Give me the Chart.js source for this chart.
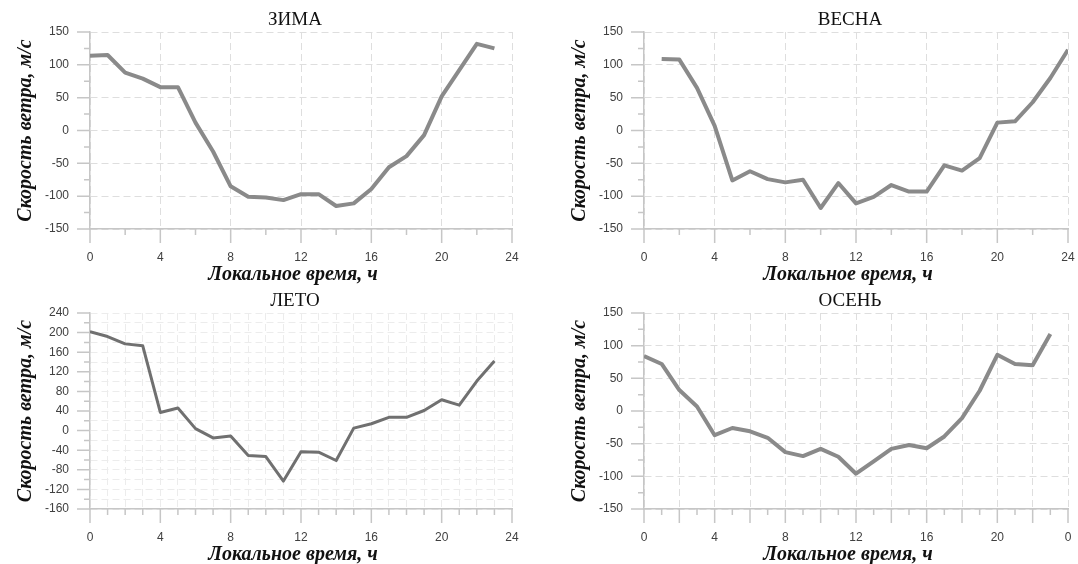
<!DOCTYPE html>
<html><head><meta charset="utf-8">
<script src="https://cdn.jsdelivr.net/npm/chart.js@4.4.0/dist/chart.umd.min.js"></script>
<style>
html,body{margin:0;padding:0;background:#fff;width:1078px;height:564px;overflow:hidden;position:relative}
canvas{position:absolute}
</style></head><body>
<canvas id="c1" style="left:0;top:0;width:539px;height:290px" width="539" height="290"></canvas>
<canvas id="c2" style="left:539px;top:0;width:539px;height:290px" width="539" height="290"></canvas>
<canvas id="c3" style="left:0;top:281px;width:539px;height:283px" width="539" height="283"></canvas>
<canvas id="c4" style="left:539px;top:281px;width:539px;height:283px" width="539" height="283"></canvas>
<script>
// ---- data ----
const seasonTitles = ['ЗИМА', 'ВЕСНА', 'ЛЕТО', 'ОСЕНЬ'];
const yAxisTitle = 'Скорость ветра, м/с';
const xAxisTitle = 'Локальное время, ч';

const winterHours = [0,1,2,3,4,5,6,7,8,9,10,11,12,13,14,15,16,17,18,19,20,21,22,23];
const winterWind  = [114,115,88,79,66,66,12,-32,-85,-101,-102,-106,-97,-97,-115,-111,-89,-56,-39,-7,52,92,132,125];

const springHours = [1,2,3,4,5,6,7,8,9,10,11,12,13,14,15,16,17,18,19,20,21,22,23,24];
const springWind  = [109,108,65,7,-76,-62,-74,-79,-75,-118,-80,-111,-101,-83,-93,-93,-53,-61,-42,12,14,43,80,123];

const summerHours = [0,1,2,3,4,5,6,7,8,9,10,11,12,13,14,15,16,17,18,19,20,21,22,23];
const summerWind  = [202,192,177,173,37,46,4,-15,-11,-51,-53,-103,-43,-44,-61,5,14,27,27,41,63,52,101,142];

const autumnHours = [0,1,2,3,4,5,6,7,8,9,10,11,12,13,14,15,16,17,18,19,20,21,22,23];
const autumnWind  = [84,72,32,7,-37,-26,-31,-41,-63,-69,-58,-70,-96,-77,-58,-52,-57,-39,-11,31,86,72,70,118];

const xTickLabels = [0,4,8,12,16,20,24];          // label every 4 h
const yRangeStd = [-150, 150];                    // ЗИМА, ВЕСНА, ОСЕНЬ
const yRangeSummer = [-160, 240];                 // ЛЕТО

// ---- plugin: minor/major tick marks + panel title + x-axis title ----
const axisDecor = {
  id: 'axisDecor',
  afterDraw(chart, args, o) {
    const {ctx, chartArea: a, scales: {x, y}} = chart;
    ctx.save();
    ctx.strokeStyle = '#c6c6c6';
    ctx.lineWidth = 1.5;
    ctx.beginPath();
    for (let v = x.min; v <= x.max + 1e-9; v += o.xMinor) {
      const px = x.getPixelForValue(v);
      const len = Math.abs(v % o.xMajor) < 1e-9 ? 14 : 6;
      ctx.moveTo(px, a.bottom); ctx.lineTo(px, a.bottom + len);
    }
    for (let v = y.min; v <= y.max + 1e-9; v += o.yMinor) {
      const py = y.getPixelForValue(v);
      const len = Math.abs(v % o.yMajor) < 1e-9 ? 13 : 6;
      ctx.moveTo(a.left, py); ctx.lineTo(a.left - len, py);
    }
    ctx.stroke();
    const cx = (a.left + a.right) / 2;
    ctx.fillStyle = '#111';
    ctx.textAlign = 'center';
    ctx.textBaseline = 'middle';
    ctx.font = '19px "Liberation Serif"';
    ctx.fillText(o.title, cx - 6, 20);
    ctx.font = 'italic bold 20px "Liberation Serif"';
    ctx.fillText(o.xTitle, cx - 8, a.bottom + 46);
    ctx.restore();
  }
};

function makeChart(id, cfg) {
  const pts = cfg.hours.map((h, i) => ({x: h, y: cfg.values[i]}));
  return new Chart(document.getElementById(id), {
    type: 'line',
    data: { datasets: [{
      data: pts,
      borderColor: cfg.lineColor,
      borderWidth: cfg.lineWidth,
      pointRadius: 0,
      tension: 0,
      borderJoinStyle: 'round',
      fill: false
    }]},
    plugins: [axisDecor],
    options: {
      responsive: false,
      animation: false,
      events: [],
      layout: { padding: { left: 0, top: 32, right: cfg.padRight, bottom: 0 } },
      plugins: {
        legend: { display: false },
        tooltip: { enabled: false },
        title: { display: false },
        axisDecor: { title: cfg.title, xTitle: xAxisTitle, xMinor: cfg.xMinor, xMajor: cfg.xMajor, yMinor: cfg.yMinor, yMajor: cfg.yMajor }
      },
      scales: {
        x: {
          type: 'linear',
          min: 0, max: 24,
          afterFit(s) { s.height = cfg.xHeight; s.paddingLeft = 0; s.paddingRight = 0; },
          ticks: {
            stepSize: cfg.xMinor, autoSkip: false, maxRotation: 0, padding: 21,
            color: '#404040', font: { family: 'Liberation Sans', size: 12 },
            callback: v => xTickLabels.includes(v) ? String(cfg.wrap ? v % 24 : v) : ''
          },
          grid: {
            drawTicks: false, lineWidth: 1,
            color: c => (c.tick && Math.abs(c.tick.value % cfg.xGrid) < 1e-9) ? cfg.gridColor : 'rgba(0,0,0,0)'
          },
          border: { color: '#c6c6c6', width: 1.5, dash: [7, 4] },
          title: { display: false }
        },
        y: {
          min: cfg.yRange[0], max: cfg.yRange[1],
          afterFit(s) { s.width = cfg.yWidth; s.paddingTop = 0; s.paddingBottom = 0; },
          ticks: {
            stepSize: cfg.yMinor, autoSkip: false, padding: 21,
            color: '#404040', font: { family: 'Liberation Sans', size: 12 },
            callback: v => (v % cfg.yMajor === 0) ? String(v) : ''
          },
          grid: {
            drawTicks: false, lineWidth: 1,
            color: c => (c.tick && c.tick.value % cfg.yGrid === 0) ? cfg.gridColor : 'rgba(0,0,0,0)'
          },
          border: { color: '#c6c6c6', width: 1.5, dash: [7, 4] },
          title: {
            display: true, text: yAxisTitle, color: '#111',
            font: { family: 'Liberation Serif', size: 20, weight: 'bold', style: 'italic', lineHeight: 1 },
            padding: { top: cfg.yTitlePad, bottom: 0 }
          }
        }
      }
    }
  });
}

makeChart('c1', { title: seasonTitles[0], hours: winterHours, values: winterWind,
  lineColor: '#8a8a8a', lineWidth: 4, yRange: yRangeStd,
  xMinor: 2, xMajor: 4, xGrid: 4, yMinor: 25, yMajor: 50, yGrid: 50, gridColor: '#dedede',
  padRight: 27, yWidth: 90, xHeight: 61, yTitlePad: 15.5, wrap: false });

makeChart('c2', { title: seasonTitles[1], hours: springHours, values: springWind,
  lineColor: '#8a8a8a', lineWidth: 4, yRange: yRangeStd,
  xMinor: 2, xMajor: 4, xGrid: 4, yMinor: 25, yMajor: 50, yGrid: 50, gridColor: '#dedede',
  padRight: 10, yWidth: 105, xHeight: 61, yTitlePad: 31, wrap: false });

makeChart('c3', { title: seasonTitles[2], hours: summerHours, values: summerWind,
  lineColor: '#707070', lineWidth: 3, yRange: yRangeSummer,
  xMinor: 1, xMajor: 4, xGrid: 1, yMinor: 20, yMajor: 40, yGrid: 20, gridColor: '#ececec',
  padRight: 27, yWidth: 90, xHeight: 55, yTitlePad: 15.5, wrap: false });

makeChart('c4', { title: seasonTitles[3], hours: autumnHours, values: autumnWind,
  lineColor: '#8a8a8a', lineWidth: 4, yRange: yRangeStd,
  xMinor: 1, xMajor: 2, xGrid: 2, yMinor: 25, yMajor: 50, yGrid: 50, gridColor: '#dedede',
  padRight: 10, yWidth: 105, xHeight: 55, yTitlePad: 31, wrap: true });
</script>
</body></html>
